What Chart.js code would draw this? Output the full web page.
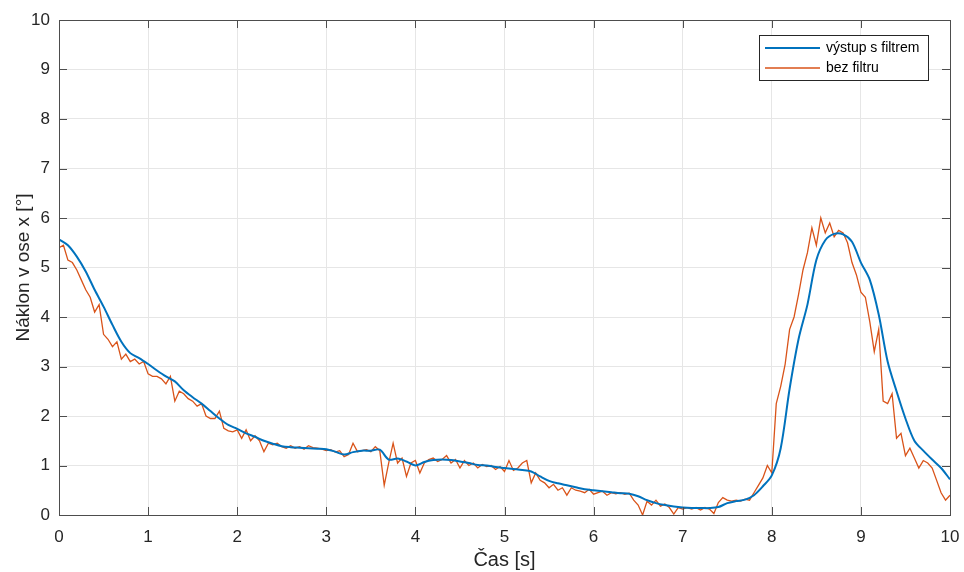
<!DOCTYPE html>
<html>
<head>
<meta charset="utf-8">
<script src="https://cdn.jsdelivr.net/npm/chart.js@4.4.1/dist/chart.umd.min.js"></script>
<style>
  html, body { margin: 0; padding: 0; background: #fff; }
  #wrap { width: 964px; height: 572px; }
</style>
</head>
<body>
<div id="wrap"><canvas id="chart" width="964" height="572"></canvas></div>
<script>
// Filtered output, sampled every 0.1 s
const stepFiltr = 0.1;
const vystupFiltr = [
  5.57, 5.45, 5.22, 4.92, 4.55, 4.21, 3.84, 3.50, 3.27, 3.17,
  3.05, 2.92, 2.80, 2.70, 2.52, 2.38, 2.25, 2.10, 1.95, 1.82,
  1.74, 1.65, 1.58, 1.50, 1.44, 1.39, 1.37, 1.36, 1.35, 1.34,
  1.33, 1.28, 1.22, 1.27, 1.30, 1.30, 1.32, 1.12, 1.14, 1.08,
  1.00, 1.07, 1.11, 1.12, 1.11, 1.08, 1.05, 1.01, 1.00, 0.97,
  0.95, 0.93, 0.91, 0.88, 0.78, 0.69, 0.64, 0.60, 0.56, 0.52,
  0.50, 0.48, 0.46, 0.44, 0.43, 0.38, 0.30, 0.24, 0.20, 0.17,
  0.15, 0.14, 0.14, 0.14, 0.16, 0.24, 0.28, 0.31, 0.40, 0.58,
  0.80, 1.35, 2.55, 3.55, 4.25, 5.15, 5.55, 5.68, 5.67, 5.52,
  5.10, 4.75, 4.05, 3.10, 2.50, 1.95, 1.50, 1.30, 1.12, 0.95,
  0.72
];

// Raw signal, sampled every 0.05 s
const stepBez = 0.05;
const bezFiltru = [
  5.40, 5.45, 5.15, 5.10, 4.95, 4.75, 4.55, 4.40, 4.10, 4.25, 3.65, 3.55, 3.40, 3.50, 3.15, 3.25, 3.10, 3.15, 3.05, 3.10,
  2.85, 2.80, 2.80, 2.75, 2.65, 2.80, 2.30, 2.50, 2.45, 2.35, 2.30, 2.20, 2.25, 2.00, 1.95, 1.95, 2.10, 1.75, 1.70, 1.68,
  1.72, 1.55, 1.72, 1.50, 1.60, 1.50, 1.28, 1.45, 1.42, 1.45, 1.38, 1.35, 1.40, 1.35, 1.38, 1.33, 1.40, 1.36, 1.35, 1.33,
  1.30, 1.32, 1.27, 1.30, 1.18, 1.22, 1.45, 1.28, 1.30, 1.32, 1.28, 1.38, 1.30, 0.60, 1.05, 1.45, 1.05, 1.15, 0.78, 1.05,
  1.10, 0.85, 1.05, 1.12, 1.15, 1.08, 1.12, 1.20, 1.05, 1.12, 0.95, 1.10, 1.00, 1.05, 0.95, 1.02, 0.98, 1.00, 0.92, 0.98,
  0.88, 1.10, 0.90, 0.95, 1.05, 1.10, 0.65, 0.85, 0.70, 0.65, 0.55, 0.62, 0.50, 0.55, 0.40, 0.55, 0.50, 0.48, 0.45, 0.52,
  0.42, 0.45, 0.48, 0.40, 0.45, 0.43, 0.45, 0.42, 0.44, 0.30, 0.20, 0.00, 0.28, 0.20, 0.30, 0.18, 0.22, 0.15, 0.02, 0.15,
  0.12, 0.15, 0.12, 0.15, 0.10, 0.15, 0.12, 0.03, 0.25, 0.35, 0.30, 0.28, 0.30, 0.28, 0.32, 0.30, 0.45, 0.60, 0.75, 1.00,
  0.85, 2.25, 2.60, 3.05, 3.75, 4.00, 4.45, 4.95, 5.30, 5.80, 5.45, 6.00, 5.70, 5.90, 5.62, 5.75, 5.70, 5.50, 5.10, 4.85,
  4.50, 4.40, 3.90, 3.30, 3.75, 2.30, 2.25, 2.45, 1.55, 1.65, 1.20, 1.35, 1.15, 0.95, 1.10, 1.05, 0.95, 0.70, 0.45, 0.30,
  0.40
];

const xTicks = [0, 1, 2, 3, 4, 5, 6, 7, 8, 9, 10];
const yTicks = [0, 1, 2, 3, 4, 5, 6, 7, 8, 9, 10];
const seriesLabels = ['výstup s filtrem', 'bez filtru'];
const seriesColors = ['#0072BD', '#D95319'];

const axisColor = '#262626';
const boxColor = '#4d4d4d';
const gridColor = '#e6e6e6';
const fontFamily = '"Liberation Sans", Arial, sans-serif';

function toPoints(values, step) {
  return values.map(function(v, i) {
    return { x: Math.round(i * step * 100) / 100, y: v };
  });
}

// Box around the plot with inward ticks on all four sides (MATLAB look)
const boxTicksPlugin = {
  id: 'boxTicks',
  afterDraw: function(chart) {
    const ctx = chart.ctx;
    const area = chart.chartArea;
    const xs = chart.scales.x;
    const ys = chart.scales.y;
    const len = 8;
    ctx.save();
    ctx.strokeStyle = boxColor;
    ctx.lineWidth = 1;
    ctx.beginPath();
    xTicks.forEach(function(t) {
      const px = Math.round(xs.getPixelForValue(t)) + 0.5;
      ctx.moveTo(px, area.bottom);
      ctx.lineTo(px, area.bottom - len);
      ctx.moveTo(px, area.top);
      ctx.lineTo(px, area.top + len);
    });
    yTicks.forEach(function(t) {
      const py = Math.round(ys.getPixelForValue(t)) + 0.5;
      ctx.moveTo(area.left, py);
      ctx.lineTo(area.left + len, py);
      ctx.moveTo(area.right, py);
      ctx.lineTo(area.right - len, py);
    });
    ctx.stroke();
    ctx.strokeRect(Math.round(area.left) + 0.5, Math.round(area.top) + 0.5,
      Math.round(area.right - area.left), Math.round(area.bottom - area.top));
    ctx.restore();
  }
};

// Legend box inside the plot, top right
const innerLegendPlugin = {
  id: 'innerLegend',
  afterDraw: function(chart) {
    const ctx = chart.ctx;
    const area = chart.chartArea;
    const boxW = 169, boxH = 45;
    const bx = area.right - 22 - boxW;
    const by = area.top + 15;
    ctx.save();
    ctx.fillStyle = '#ffffff';
    ctx.fillRect(bx, by, boxW, boxH);
    ctx.strokeStyle = axisColor;
    ctx.lineWidth = 1;
    ctx.strokeRect(Math.round(bx) + 0.5, Math.round(by) + 0.5, boxW, boxH);
    ctx.font = '14px ' + fontFamily;
    ctx.textBaseline = 'middle';
    chart.data.datasets.forEach(function(ds, i) {
      const ly = by + 13 + i * 20;
      ctx.strokeStyle = ds.borderColor;
      ctx.lineWidth = ds.borderWidth;
      ctx.beginPath();
      ctx.moveTo(bx + 6, ly);
      ctx.lineTo(bx + 61, ly);
      ctx.stroke();
      ctx.fillStyle = '#000';
      ctx.fillText(ds.label, bx + 67, ly);
    });
    ctx.restore();
  }
};

new Chart(document.getElementById('chart'), {
  type: 'line',
  data: {
    datasets: [
      {
        label: seriesLabels[0],
        data: toPoints(vystupFiltr, stepFiltr),
        borderColor: seriesColors[0],
        borderWidth: 2,
        pointRadius: 0,
        tension: 0.3
      },
      {
        label: seriesLabels[1],
        data: toPoints(bezFiltru, stepBez),
        borderColor: seriesColors[1],
        borderWidth: 1.3,
        pointRadius: 0,
        tension: 0
      }
    ]
  },
  options: {
    responsive: false,
    animation: false,
    layout: { padding: { top: 20, right: 14, left: 0, bottom: 0 } },
    plugins: {
      legend: { display: false },
      tooltip: { enabled: false }
    },
    scales: {
      x: {
        type: 'linear',
        min: 0,
        max: 10,
        afterBuildTicks: function(scale) {
          scale.ticks = xTicks.map(function(v) { return { value: v }; });
        },
        afterFit: function(scale) {
          scale.height = 57;
          scale.paddingLeft = 0;
          scale.paddingRight = 0;
        },
        grid: { color: gridColor, drawTicks: false },
        border: { display: false },
        ticks: {
          color: axisColor,
          padding: 12,
          maxRotation: 0,
          font: { family: fontFamily, size: 17 }
        },
        title: {
          display: true,
          text: 'Čas [s]',
          color: axisColor,
          padding: { top: 2, bottom: 0 },
          font: { family: fontFamily, size: 20 }
        }
      },
      y: {
        type: 'linear',
        min: 0,
        max: 10,
        afterBuildTicks: function(scale) {
          scale.ticks = yTicks.map(function(v) { return { value: v }; });
        },
        afterFit: function(scale) {
          scale.width = 59;
          scale.paddingTop = 0;
          scale.paddingBottom = 0;
        },
        grid: { color: gridColor, drawTicks: false },
        border: { display: false },
        ticks: {
          color: axisColor,
          padding: 9,
          font: { family: fontFamily, size: 17 }
        },
        title: {
          display: true,
          text: 'Náklon v ose x [°]',
          color: axisColor,
          padding: { top: 12, bottom: 0 },
          font: { family: fontFamily, size: 19 }
        }
      }
    }
  },
  plugins: [boxTicksPlugin, innerLegendPlugin]
});
</script>
</body>
</html>
